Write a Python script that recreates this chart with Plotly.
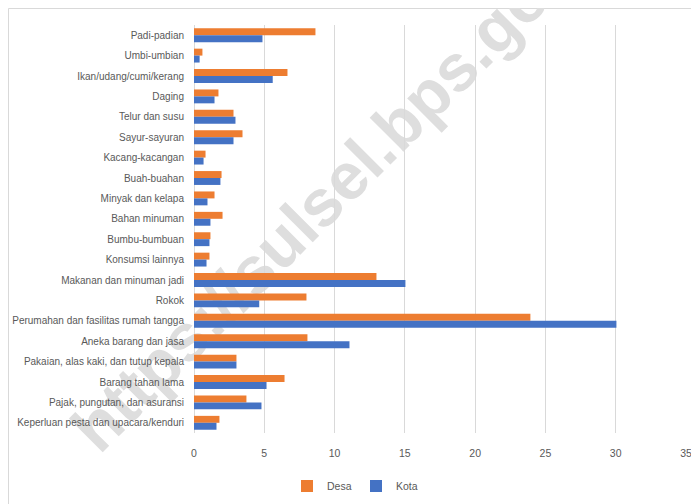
import plotly.graph_objects as go

categories = [
    "Padi-padian", "Umbi-umbian", "Ikan/udang/cumi/kerang", "Daging", "Telur dan susu",
    "Sayur-sayuran", "Kacang-kacangan", "Buah-buahan", "Minyak dan kelapa", "Bahan minuman",
    "Bumbu-bumbuan", "Konsumsi lainnya", "Makanan dan minuman jadi", "Rokok",
    "Perumahan dan fasilitas rumah tangga", "Aneka barang dan jasa",
    "Pakaian, alas kaki, dan tutup kepala", "Barang tahan lama",
    "Pajak, pungutan, dan asuransi", "Keperluan pesta dan upacara/kenduri",
]
desa = [8.64, 0.6, 6.65, 1.74, 2.81, 3.45, 0.82, 1.96, 1.46, 2.03,
        1.17, 1.1, 12.98, 8.0, 23.93, 8.07, 3.02, 6.44, 3.73, 1.81]
kota = [4.87, 0.4, 5.6, 1.46, 2.95, 2.81, 0.68, 1.88, 0.96, 1.17,
        1.1, 0.89, 15.04, 4.64, 30.05, 11.06, 3.02, 5.16, 4.8, 1.6]
x_ticks = [0, 5, 10, 15, 20, 25, 30, 35]
watermark = "https://sulsel.bps.go.id"

FONT = "Liberation Sans, Arial, sans-serif"
FS = 10

fig = go.Figure()
fig.add_trace(go.Bar(y=categories, x=desa, orientation="h", name="Desa",
                     marker=dict(color="#ED7D31", line=dict(width=0))))
fig.add_trace(go.Bar(y=categories, x=kota, orientation="h", name="Kota",
                     marker=dict(color="#4472C4", line=dict(width=0))))

W, H = 699, 504
OFF = 8  # page body margin
L, R, T, B = 186, 21, 17, 79
pw, ph = W - L - R, H - T - B

def px(xs):
    return (xs - OFF - L) / pw

def py(ys):
    return (H - B - (ys - OFF)) / ph

cx, cy = 333, 181
fig.update_layout(
    width=W, height=H,
    margin=dict(l=L, r=R, t=T, b=B, autoexpand=False),
    paper_bgcolor="white", plot_bgcolor="rgba(0,0,0,0)",
    barmode="group", bargap=0.32, bargroupgap=0,
    font=dict(family=FONT, size=FS, color="#595959"),
    showlegend=True,
    legend=dict(orientation="h", xref="container", yref="container",
                x=(356 - OFF) / W, xanchor="center", y=1 - (486 - OFF) / H, yanchor="middle",
                font=dict(size=10.5, color="#595959"), itemwidth=30,
                entrywidth=24, entrywidthmode="pixels",
                traceorder="normal", tracegroupgap=0),
    xaxis=dict(range=[0, 35], tickvals=x_ticks, showgrid=True,
               gridcolor="#D9D9D9", gridwidth=1, zeroline=True,
               zerolinecolor="#D9D9D9", zerolinewidth=1, showline=False,
               ticks="", ticklabelstandoff=12, fixedrange=True, automargin=False,
               tickfont=dict(size=10.5, color="#595959")),
    yaxis=dict(autorange="reversed", showgrid=False, zeroline=False,
               showline=False, ticks="", ticklabelstandoff=9, automargin=False,
               tickfont=dict(size=FS, color="#595959")),
    shapes=[
        dict(type="rect", xref="paper", yref="paper",
             x0=px(OFF + 0.5), x1=px(720), y0=py(530), y1=py(OFF + 0.5),
             line=dict(color="#D9D9D9", width=1), fillcolor="rgba(0,0,0,0)",
             layer="below"),
        dict(type="rect", xref="paper", yref="paper",
             x0=px(cx - 1), x1=px(cx + 1), y0=py(cy + 1), y1=py(cy - 1),
             line=dict(width=0), fillcolor="rgba(0,0,0,0)", layer="below",
             label=dict(text=watermark, textangle=-45, textposition="middle center",
                        xanchor="center", yanchor="middle",
                        font=dict(family="Liberation Sans, sans-serif", size=66,
                                  weight="bold", color="#DEDEDE"))),
    ],
)

fig.write_html("out.html")
